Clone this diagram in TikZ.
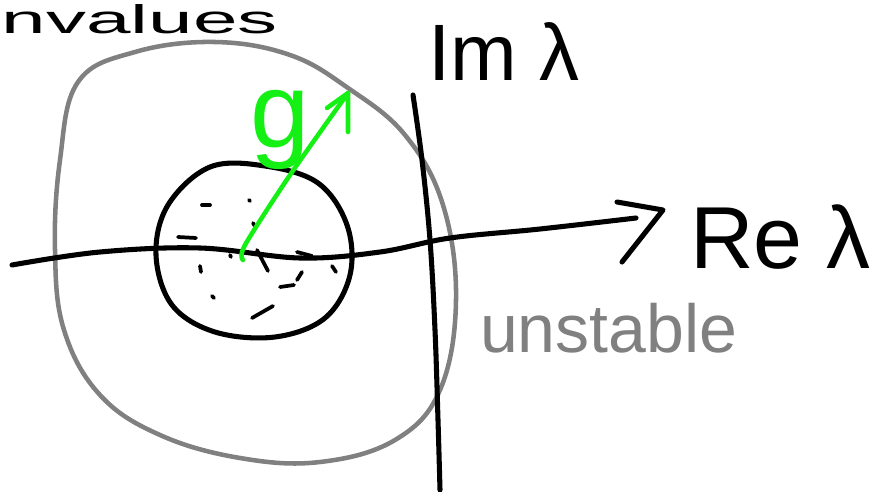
\documentclass[tikz,border=0pt]{standalone}
\usepackage{fontspec}
\setmainfont{Liberation Sans}
\definecolor{penblack}{RGB}{0,0,0}
\definecolor{pengray}{RGB}{128,128,128}
\definecolor{pengreen}{RGB}{20,240,20}
\begin{document}
\begin{tikzpicture}[x=0.75pt,y=-0.75pt,
  ink/.style={line width=3.8pt,line cap=round,line join=round,penblack},
  grayink/.style={line width=3.4pt,line cap=round,line join=round,pengray},
  greenink/.style={line width=3.4pt,line cap=round,line join=round,pengreen},
  speck/.style={line width=2.8pt,line cap=round,penblack},
  hand/.style={inner sep=0pt,outer sep=0pt}]
\useasboundingbox (0,0) rectangle (888,492);
\fill[white] (0,0) rectangle (888,492);

% outer gray circle
\draw[grayink] plot[smooth cycle,tension=0.65] coordinates {(78,82) (135,52) (215,42) (290,55) (348,88) (405,135) (443,205) (456,300) (440,390) (395,440) (320,462) (240,458) (160,435) (100,395) (64,330) (55,250) (60,160)};

% inner black circle
\draw[ink] plot[smooth cycle,tension=0.6] coordinates {(210,167) (265,166) (318,183) (347,225) (350,275) (325,318) (275,337) (215,332) (172,305) (156,255) (168,205)};

% specks inside inner circle
\foreach \a/\b in {{(202,205)}/{(210,205)},{(249,200)}/{(250,201)},{(253,223)}/{(256,228)},{(178,237)}/{(196,238)},{(230,255)}/{(231,257)},{(257,250)}/{(268,271)},{(200,266)}/{(201,272)},{(302,272)}/{(297,280)},{(280,287)}/{(294,285)},{(212,296)}/{(214,298)},{(252,318)}/{(273,306)},{(332,266)}/{(336,272)},{(297,252)}/{(312,256)}}
  \draw[speck] \a -- \b;

% horizontal axis (Re)
\coordinate (hstart) at (12,265);
\coordinate (hend) at (636,218);
\coordinate (htip) at (663,210);
\draw[ink] plot[smooth,tension=0.6] coordinates {(hstart) (100,252) (200,248) (300,258) (380,252) (450,238) (540,229) (hend)};
\draw[ink] (617,202) -- (htip) -- (622,262);

% vertical axis (Im)
\coordinate (vtop) at (413,95);
\coordinate (vbot) at (440,490);
\draw[ink] plot[smooth,tension=0.6] coordinates {(vtop) (422,160) (430,240) (435,330) (438,420) (vbot)};

% green vector g
\coordinate (gtail) at (243,260);
\coordinate (gtip) at (348,93);
\draw[greenink] plot[smooth,tension=0.5] coordinates {(gtail) (245,245) (290,175) (gtip)};
\draw[greenink] (327,108) -- (gtip) -- (348,132);

% labels
\node[hand,anchor=base west,font=\fontsize{30}{30}\selectfont,xscale=2.0] (eig) at (2,34) {nvalues};
\node[hand,anchor=base west,font=\fontsize{60}{60}\selectfont] (im) at (428,80) {Im λ};
\node[hand,anchor=base west,font=\fontsize{66}{66}\selectfont] (re) at (690,268) {Re λ};
\node[hand,anchor=base west,font=\fontsize{51}{51}\selectfont,pengray] (unst) at (480,352) {unstable};
\node[hand,anchor=base west,font=\fontsize{80}{80}\selectfont,pengreen] (glab) at (250,147) {g};
\end{tikzpicture}
\end{document}
